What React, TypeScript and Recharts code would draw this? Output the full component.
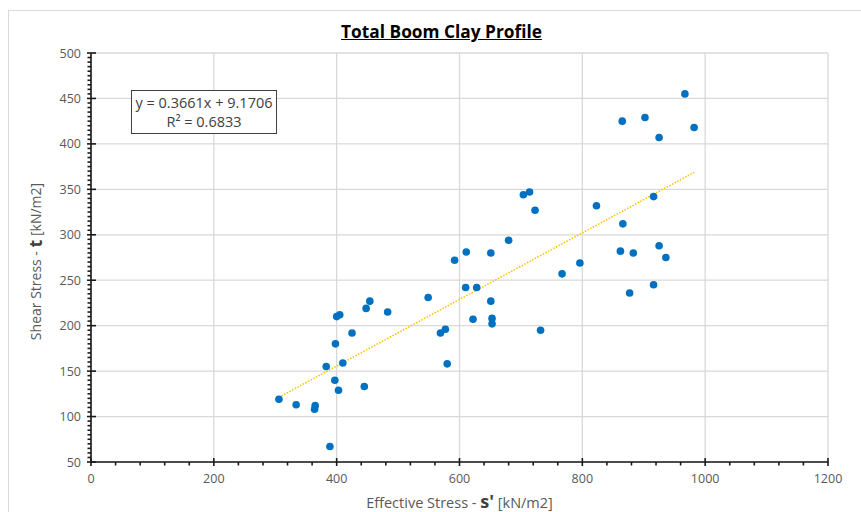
import { ScatterChart, Scatter, XAxis, YAxis, CartesianGrid, ReferenceLine } from 'recharts'

// effective stress s' [kN/m2]
const effectiveStress = [
    306, 334, 365, 364, 389, 383, 397, 403, 398, 400, 405, 410, 425, 445, 448, 454, 483,
    549, 569, 577, 580, 592, 611, 610, 628, 622, 651, 651, 653, 653, 680, 704, 714, 723,
    732, 767, 796, 823, 865, 902, 967, 925, 982, 916, 866, 862, 883, 925, 936, 877, 916,
]
// shear stress t [kN/m2]
const shearStress = [
    119, 113, 112, 108, 67, 155, 140, 129, 180, 210, 212, 159, 192, 133, 219, 227, 215,
    231, 192, 196, 158, 272, 281, 242, 242, 207, 280, 227, 208, 202, 294, 344, 347, 327,
    195, 257, 269, 332, 425, 429, 455, 407, 418, 342, 312, 282, 280, 288, 275, 236, 245,
]

const xTicks = [0, 200, 400, 600, 800, 1000, 1200]
const yTicks = [50, 100, 150, 200, 250, 300, 350, 400, 450, 500]

const slope = 0.3661
const intercept = 9.1706
const rSquared = 0.6833

const X_MIN = 0, X_MAX = 1200, Y_MIN = 50, Y_MAX = 500
const FONT = '"Open Sans", sans-serif'
const AXIS = '#1a1a1a'
const TEXT = '#595959'

const points = effectiveStress.map((x, i) => ({ x, y: shearStress[i] }))
const xFirst = Math.min(...effectiveStress)
const xLast = Math.max(...effectiveStress)

// minor tick positions (major every 200 / 50)
const xAllTicks: number[] = []
for (let v = X_MIN; v <= X_MAX; v += 40) xAllTicks.push(v)
const yAllTicks: number[] = []
for (let v = Y_MIN; v <= Y_MAX; v += 5) yAllTicks.push(v)

function XTick(props: any) {
    const { x, y, payload } = props
    const major = xTicks.includes(payload.value)
    return (
        <g>
            <line x1={x} x2={x} y1={major ? y - 4 : y} y2={y + (major ? 4 : 3.5)} stroke={AXIS} strokeWidth={1.6} />
            {major && (
                <text x={x} y={y + 21} textAnchor="middle" fontSize={12.5} fontFamily={FONT} fill={TEXT}>
                    {payload.value}
                </text>
            )}
        </g>
    )
}

function YTick(props: any) {
    const { x, y, payload } = props
    const major = yTicks.includes(payload.value)
    return (
        <g>
            <line x1={major ? x - 4 : x - 3.5} x2={major ? x + 5 : x} y1={y} y2={y} stroke={AXIS} strokeWidth={1.6} />
            {major && (
                <text x={x - 10} y={y + 4.5} textAnchor="end" fontSize={12.5} fontFamily={FONT} fill={TEXT}>
                    {payload.value}
                </text>
            )}
        </g>
    )
}

function YLabel(props: any) {
    const { viewBox } = props
    const cx = viewBox.x + 4
    const cy = viewBox.y + viewBox.height / 2 + 4
    return (
        <text x={cx} y={cy} transform={`rotate(-90, ${cx}, ${cy})`} textAnchor="middle" dominantBaseline="central"
            fontFamily={FONT} fontSize={14} fill={TEXT}>
            Shear Stress - <tspan fontWeight="bold" fontSize={18} fill="#404040">t</tspan> [kN/m2]
        </text>
    )
}

function XLabel(props: any) {
    const { viewBox } = props
    return (
        <text x={viewBox.x + viewBox.width / 2} y={viewBox.y + 46} textAnchor="middle"
            fontFamily={FONT} fontSize={14.5} fill={TEXT}>
            Effective Stress - <tspan fontWeight="bold" fontSize={18} fill="#404040">s'</tspan> [kN/m2]
        </text>
    )
}

export default function App() {
    return (
        <div style={{ position: 'fixed', left: 8, top: 8, width: 853, height: 504, background: '#fff' }}>
            <div style={{ position: 'absolute', left: 0, top: 2, width: 900, height: 600, border: '1px solid #d9d9d9' }} />
            <div style={{
                position: 'absolute', left: 0, width: 867, top: 12, textAlign: 'center',
                fontFamily: FONT, fontWeight: 'bold', fontSize: 17.3, color: '#000', textDecoration: 'underline',
            }}>
                Total Boom Clay Profile
            </div>
            <ScatterChart width={853} height={504} margin={{ top: 45, right: 33, bottom: 0, left: 23 }}>
                <CartesianGrid
                    stroke="#d9d9d9"
                    strokeWidth={1.3}
                    verticalCoordinatesGenerator={({ offset }: any) =>
                        xTicks.map((v) => offset.left + ((v - X_MIN) / (X_MAX - X_MIN)) * offset.width)}
                    horizontalCoordinatesGenerator={({ offset }: any) =>
                        yTicks.map((v) => offset.top + ((Y_MAX - v) / (Y_MAX - Y_MIN)) * offset.height)}
                />
                <XAxis type="number" dataKey="x" domain={[X_MIN, X_MAX]} ticks={xAllTicks} interval={0}
                    height={50} tickSize={0} tickMargin={0} tickLine={false} tick={<XTick />}
                    axisLine={{ stroke: AXIS, strokeWidth: 1.6 }} label={<XLabel />} />
                <YAxis type="number" dataKey="y" domain={[Y_MIN, Y_MAX]} ticks={yAllTicks} interval={0}
                    width={60} tickSize={0} tickMargin={0} tickLine={false} tick={<YTick />}
                    axisLine={{ stroke: AXIS, strokeWidth: 1.6 }} label={<YLabel />} />
                <Scatter data={points} isAnimationActive={false}
                    shape={(p: any) => <circle cx={p.cx} cy={p.cy} r={3.8} fill="#0070C0" />} />
                <ReferenceLine
                    segment={[
                        { x: xFirst, y: slope * xFirst + intercept },
                        { x: xLast, y: slope * xLast + intercept },
                    ]}
                    stroke="#FFC000"
                    strokeWidth={1.5}
                    strokeDasharray="1.5 1.5"
                />
            </ScatterChart>
            <div style={{
                position: 'absolute', left: 123, top: 82, width: 146, height: 44, boxSizing: 'border-box',
                border: '1.3px solid #404040', background: '#fff', fontFamily: FONT, fontSize: 14.5,
                color: '#404040', textAlign: 'center', lineHeight: '19px', paddingTop: 2,
            }}>
                <div>y = {slope}x + {intercept}</div>
                <div>R² = {rSquared}</div>
            </div>
        </div>
    )
}
